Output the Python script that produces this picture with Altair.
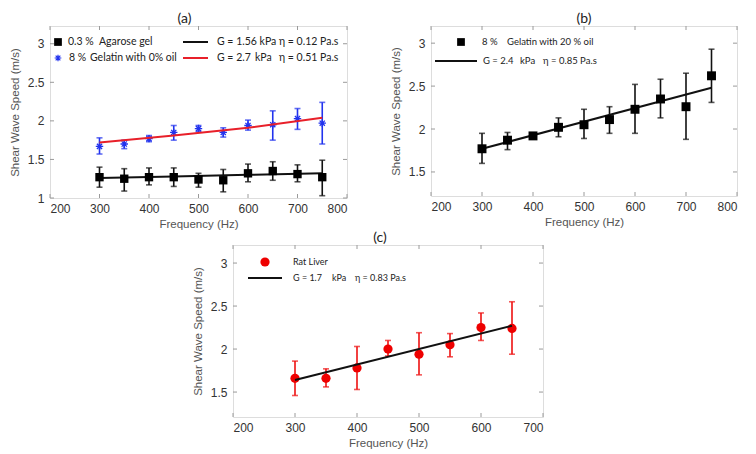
import altair as alt
import pandas as pd

# ---------------- data ----------------
freq_ab = [300, 350, 400, 450, 500, 550, 600, 650, 700, 750]
agar_mean = [1.27, 1.25, 1.27, 1.27, 1.24, 1.23, 1.32, 1.35, 1.31, 1.27]
agar_lo = [1.14, 1.09, 1.17, 1.15, 1.14, 1.08, 1.21, 1.23, 1.21, 1.03]
agar_hi = [1.40, 1.38, 1.39, 1.39, 1.32, 1.37, 1.44, 1.47, 1.43, 1.49]
gel0_mean = [1.67, 1.70, 1.77, 1.85, 1.90, 1.85, 1.94, 1.95, 2.03, 1.97]
gel0_lo = [1.57, 1.64, 1.73, 1.75, 1.86, 1.79, 1.88, 1.75, 1.89, 1.70]
gel0_hi = [1.78, 1.75, 1.81, 1.94, 1.94, 1.91, 2.01, 2.13, 2.16, 2.24]
fit_a_freq = [300, 450, 600, 750]
fit_agar = [1.26, 1.28, 1.30, 1.32]
fit_gel0 = [1.72, 1.81, 1.91, 2.04]

gel20_mean = [1.77, 1.87, 1.92, 2.02, 2.05, 2.11, 2.23, 2.35, 2.26, 2.62]
gel20_lo = [1.60, 1.76, 1.89, 1.91, 1.89, 1.95, 1.95, 2.13, 1.88, 2.31]
gel20_hi = [1.95, 1.96, 1.95, 2.13, 2.23, 2.26, 2.52, 2.58, 2.65, 2.93]
fit_b_freq = [300, 750]
fit_gel20 = [1.77, 2.48]

freq_c = [300, 350, 400, 450, 500, 550, 600, 650]
liver_mean = [1.66, 1.66, 1.78, 2.00, 1.94, 2.05, 2.25, 2.24]
liver_lo = [1.46, 1.56, 1.53, 1.92, 1.70, 1.91, 2.10, 1.94]
liver_hi = [1.86, 1.77, 2.03, 2.10, 2.19, 2.18, 2.42, 2.55]
fit_c_freq = [300, 650]
fit_liver = [1.64, 2.27]

x_ticks_ab = [200, 300, 400, 500, 600, 700, 800]
x_ticks_c = [200, 300, 400, 500, 600, 700]
y_ticks_a = [1, 1.5, 2, 2.5, 3]
y_ticks_bc = [1.5, 2, 2.5, 3]

STAR = "M-1,0L1,0M0,-1L0,1M-0.7,-0.7L0.7,0.7M-0.7,0.7L0.7,-0.7"
AX_FONT = "Liberation Sans"
LEG_FONT = "Lato"
FRAME = "#9a9a9a"
XTITLE = "Frequency (Hz)"
YTITLE = "Shear Wave Speed (m/s)"


class Panel:
    def __init__(self, xdom, ydom, xt, yt, W, H):
        self.xs = alt.Scale(domain=xdom, nice=False, zero=False)
        self.ys = alt.Scale(domain=ydom, nice=False, zero=False)
        common = dict(ticks=False, domain=False, grid=False, titleFontWeight="normal",
                      labelFont=AX_FONT, labelFontSize=12, labelColor="#333",
                      titleFont=AX_FONT, titleFontSize=11.5, titleColor="#555")
        self.ax = alt.Axis(values=xt, format="d", labelPadding=5, titlePadding=4, **common)
        self.ay = alt.Axis(values=yt, format="~g", labelPadding=6, titlePadding=7, **common)
        self.xt, self.yt, self.W, self.H = xt, yt, W, H

    def X(self, f):
        return alt.X(f, scale=self.xs, axis=self.ax, title=XTITLE)

    def Y(self, f):
        return alt.Y(f, scale=self.ys, axis=self.ay, title=YTITLE)

    def errors(self, freq, mean, lo, hi, color, point):
        df = pd.DataFrame({"f": freq, "m": mean, "lo": lo, "hi": hi})
        base = alt.Chart(df)
        rule = base.mark_rule(color=color, strokeWidth=1.6).encode(
            x=self.X("f:Q"), y=self.Y("lo:Q"), y2="hi:Q")
        cap_lo = base.mark_tick(color=color, orient="horizontal", size=6, thickness=1.6).encode(
            x=self.X("f:Q"), y=self.Y("lo:Q"))
        cap_hi = base.mark_tick(color=color, orient="horizontal", size=6, thickness=1.6).encode(
            x=self.X("f:Q"), y=self.Y("hi:Q"))
        pts = base.mark_point(**point).encode(x=self.X("f:Q"), y=self.Y("m:Q"))
        return [rule, cap_lo, cap_hi, pts]

    def fit(self, freq, vals, color):
        df = pd.DataFrame({"f": freq, "v": vals})
        return alt.Chart(df).mark_line(color=color, strokeWidth=2).encode(
            x=self.X("f:Q"), y=self.Y("v:Q"))

    def ticks(self, L=4):
        dx = pd.DataFrame({"t": self.xt})
        dy = pd.DataFrame({"t": self.yt})
        out = []
        for y0, y1 in [(self.H, self.H - L), (0, L)]:
            out.append(alt.Chart(dx).mark_rule(color=FRAME, strokeWidth=1).encode(
                x=self.X("t:Q"), y=alt.value(y0), y2=alt.value(y1)))
        for x0, x1 in [(0, L), (self.W - L, self.W)]:
            out.append(alt.Chart(dy).mark_rule(color=FRAME, strokeWidth=1).encode(
                y=self.Y("t:Q"), x=alt.value(x0), x2=alt.value(x1)))
        return out


def txt(s, x, y, size=10.5):
    return alt.Chart(alt.Data(values=[{"t": s}])).mark_text(
        align="left", baseline="middle", font=LEG_FONT, fontSize=size, color="#222").encode(
        text="t:N", x=alt.value(x), y=alt.value(y))


def sym(x, y, **kw):
    return alt.Chart(alt.Data(values=[{"t": 0}])).mark_point(**kw).encode(
        x=alt.value(x), y=alt.value(y))


def seg(x0, x1, y, color):
    return alt.Chart(alt.Data(values=[{"t": 0}])).mark_rule(color=color, strokeWidth=2).encode(
        x=alt.value(x0), x2=alt.value(x1), y=alt.value(y))


def title(s, dx=0):
    return alt.TitleParams(s, font=LEG_FONT, fontSize=14, fontWeight="normal", color="#222",
                           offset=0, anchor="middle", frame="group", dx=dx)


# ---------------- panel (a) ----------------
pa = Panel([200, 800], [1, 3.23], x_ticks_ab, y_ticks_a, 297, 172)
square_k = dict(shape="square", filled=True, color="#000", size=70, opacity=1)
star_b = dict(shape=STAR, filled=False, color="#2233ee", size=55, strokeWidth=1.3, opacity=1)

layers_a = pa.ticks()
layers_a.append(pa.fit(fit_a_freq, fit_agar, "#111"))
layers_a += pa.errors(freq_ab, agar_mean, agar_lo, agar_hi, "#111", square_k)
layers_a += pa.errors(freq_ab, gel0_mean, gel0_lo, gel0_hi, "#2233ee", star_b)
layers_a.append(pa.fit(fit_a_freq, fit_gel0, "#e8202a"))
layers_a += [
    sym(8, 16, shape="square", filled=True, color="#000", size=60, opacity=1),
    txt("0.3 %", 18, 16), txt("Agarose gel", 49, 16),
    sym(8, 32, shape=STAR, filled=False, color="#2233ee", size=45, strokeWidth=1.2, opacity=1),
    txt("8 %", 19, 32), txt("Gelatin with 0% oil", 40, 32),
    seg(133, 158, 16, "#111"), txt("G = 1.56 kPa", 167, 16), txt("η = 0.12 Pa.s", 229, 16),
    seg(133, 158, 32, "#e8202a"), txt("G = 2.7", 167, 32), txt("kPa", 205, 32),
    txt("η = 0.51 Pa.s", 229, 32),
]
panel_a = alt.layer(*layers_a).properties(width=pa.W, height=pa.H, title=title("(a)", -14))

# ---------------- panel (b) ----------------
pb = Panel([200, 800], [1.22, 3.2], x_ticks_ab, y_ticks_bc, 306, 170)
layers_b = pb.ticks()
layers_b.append(pb.fit(fit_b_freq, fit_gel20, "#111"))
layers_b += pb.errors(freq_ab, gel20_mean, gel20_lo, gel20_hi, "#111",
                      dict(shape="square", filled=True, color="#000", size=80, opacity=1))
layers_b += [
    sym(30, 16, shape="square", filled=True, color="#000", size=60, opacity=1),
    txt("8 %", 51, 16, 9.5), txt("Gelatin with 20 % oil", 76, 16, 9.5),
    seg(4, 46, 35, "#111"), txt("G = 2.4", 52, 35, 9.5), txt("kPa", 89, 35, 9.5),
    txt("η = 0.85 Pa.s", 112, 35, 9.5),
]
panel_b = alt.layer(*layers_b).properties(width=pb.W, height=pb.H, title=title("(b)"))

# ---------------- panel (c) ----------------
pc = Panel([200, 700], [1.21, 3.21], x_ticks_c, y_ticks_bc, 310, 172)
layers_c = pc.ticks()
layers_c += pc.errors(freq_c, liver_mean, liver_lo, liver_hi, "#ee1111",
                      dict(shape="circle", filled=True, color="#ee0000", size=85, opacity=1))
layers_c.append(pc.fit(fit_c_freq, fit_liver, "#111"))
layers_c += [
    sym(32, 17, shape="circle", filled=True, color="#ee0000", size=85, opacity=1),
    txt("Rat Liver", 60, 17, 9),
    seg(15, 49, 33, "#111"), txt("G = 1.7", 60, 33, 9), txt("kPa", 99, 33, 9),
    txt("η = 0.83 Pa.s", 122, 33, 9),
]
panel_c = alt.layer(*layers_c).properties(width=pc.W, height=pc.H, title=title("(c)", -8))

spacer = alt.Chart(alt.Data(values=[{"t": 0}])).mark_point(opacity=0).encode(
    x=alt.value(0), y=alt.value(0)
).properties(width=140, height=10, view=alt.ViewBackground(stroke="transparent"))

top = alt.hconcat(panel_a, panel_b, spacing=41)
bottom = alt.hconcat(spacer, panel_c, spacing=0)
chart = alt.vconcat(top, bottom, spacing=0).properties(
    padding={"left": 0, "top": 3, "right": 0, "bottom": 0}
).configure_view(
    stroke=FRAME, strokeWidth=1
).configure(background="white")

chart.save("out.html", embed_options={"renderer": "svg", "actions": False})
